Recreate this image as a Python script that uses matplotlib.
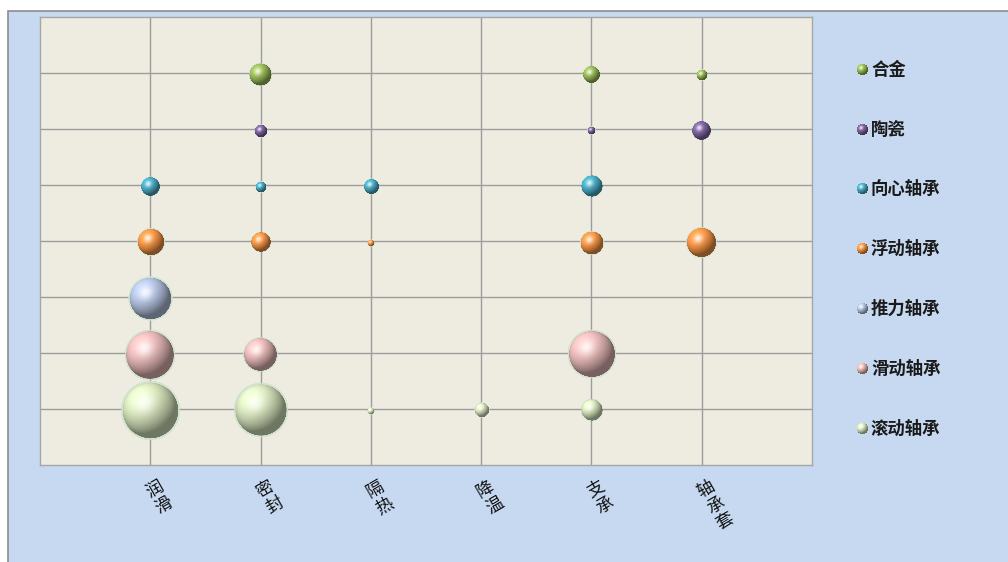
import numpy as np
import matplotlib
matplotlib.use("Agg")
import matplotlib.pyplot as plt
from matplotlib.offsetbox import OffsetImage, AnnotationBbox
from matplotlib.colors import to_rgb
from matplotlib.patches import Rectangle

plt.rcParams["font.family"] = ["Noto Sans CJK SC", "DejaVu Sans"]

# Application fields (x axis)
categories = ["润滑", "密封", "隔热", "降温", "支承", "轴承套"]

# Material / bearing type series, listed top row first
series_names = ["合金", "陶瓷", "向心轴承", "浮动轴承", "推力轴承", "滑动轴承", "滚动轴承"]
series_rows = [7, 6, 5, 4, 3, 2, 1]

# Bubble sizes per field (None = no bubble)
alloy = [None, 16, None, None, 8.6, 3.6]
ceramic = [None, 5, None, None, 1.9, 11]
radial_bearing = [11, 3.6, 6.7, None, 14, None]
floating_bearing = [22, 12, 1.6, None, 17, 27]
thrust_bearing = [55, None, None, None, None, None]
sliding_bearing = [74, 34, None, None, 68, None]
rolling_bearing = [100, 84, 1.6, 5.8, 14, None]
series_values = [alloy, ceramic, radial_bearing, floating_bearing,
                 thrust_bearing, sliding_bearing, rolling_bearing]

series_colors = ["#9BBB59", "#8064A2", "#4BACC6", "#F79646",
                 "#B4C2E0", "#E6B9B8", "#D7E4BD"]

IMG_N = 200
BODY = 0.88          # sphere radius as a fraction of the image half-width
MAX_DIAM_PT = 39.6   # diameter (points) of a bubble of size 100


def sphere(color, n=IMG_N, body=BODY):
    """RGBA image of a glossy shaded ball with a pale halo."""
    c = np.array(to_rgb(color))
    t = (np.arange(n) + 0.5) / n * 2 - 1
    X, Y = np.meshgrid(t, -t)
    x, y = X / body, Y / body
    rr = np.sqrt(x ** 2 + y ** 2)
    z = np.sqrt(np.clip(1 - rr ** 2, 0, None))
    L = np.array([-0.45, 0.55, 0.70])
    L /= np.linalg.norm(L)
    lam = np.clip(x * L[0] + y * L[1] + z * L[2], 0, 1)
    H = L + np.array([0, 0, 1.0])
    H /= np.linalg.norm(H)
    spec = np.clip(x * H[0] + y * H[1] + z * H[2], 0, 1) ** 18
    rgb = c * (0.52 + 0.62 * lam)[..., None]
    rgb = rgb + (1 - rgb) * (0.80 * spec)[..., None]
    rgb = np.clip(rgb, 0, 1)
    px = n / 2 * body
    a_body = np.clip((1 - rr) * px + 0.5, 0, 1)
    a_halo = np.clip((1.07 - rr) * px + 0.5, 0, 1) * 0.85
    halo_rgb = np.array(to_rgb("#CDE2CD"))
    out_rgb = rgb * a_body[..., None] + halo_rgb * (1 - a_body)[..., None]
    out_a = a_body + a_halo * (1 - a_body)
    return np.dstack([np.clip(out_rgb, 0, 1), np.clip(out_a, 0, 1)])


def ball(img, diam_pt, xy, **kw):
    zoom = diam_pt / (BODY * IMG_N)
    return AnnotationBbox(OffsetImage(img, zoom=zoom), xy, frameon=False,
                          pad=0, box_alignment=(0.5, 0.5), **kw)


W, H = 1008, 562
fig = plt.figure(figsize=(W / 100, H / 100), dpi=100)
fig.patch.set_facecolor("white")

# Chart panel behind the plot area
fig.patches.append(Rectangle((8 / W, -0.1), 1.2, 1.1 - 11 / H,
                             transform=fig.transFigure, facecolor="#C6D9F1",
                             edgecolor="#8C8C8C", lw=1.2, zorder=-5))

ax = fig.add_axes([40 / W, 1 - 465 / H, 772 / W, 448 / H], zorder=1)
ax.set_xlim(0, 7)
ax.set_ylim(0, 8)
ax.set_facecolor("#EEECE1")
for s in ax.spines.values():
    s.set_color("#A6A6A6")
    s.set_linewidth(1.0)
ax.set_xticks(range(1, len(categories) + 1),
              ["\n".join(c) for c in categories])
ax.set_yticks(series_rows)
ax.set_yticklabels([])
ax.tick_params(length=0, pad=12, labelsize=12.5)
for lbl in ax.get_xticklabels():
    lbl.set_rotation(30)
    lbl.set_rotation_mode("anchor")
    lbl.set_ha("center")
    lbl.set_va("top")
    lbl.set_linespacing(1.05)
    lbl.set_color("#111111")
ax.grid(True, color="#9C9C9C", lw=1.0)
ax.set_axisbelow(True)

for name, row, vals, color in zip(series_names, series_rows,
                                  series_values, series_colors):
    img = sphere(color)
    for i, v in enumerate(vals):
        if v is None:
            continue
        d = MAX_DIAM_PT * np.sqrt(v / 100)
        ax.add_artist(ball(img, d, (i + 1, row),
                           xybox=(0, -1.2), boxcoords="offset points"))

# Legend
leg_y = [70, 130, 189, 249, 309, 369, 429]
for name, color, yy in zip(series_names, series_colors, leg_y):
    img = sphere(color)
    fig.add_artist(ball(img, 8.2, (862, H - yy), xycoords="figure pixels"))
    fig.text(871 / W, 1 - yy / H, name, ha="left", va="center",
             fontsize=12.5, fontweight="bold", color="#1A1A1A")

fig.savefig("out.png", dpi=100, facecolor=fig.get_facecolor())
